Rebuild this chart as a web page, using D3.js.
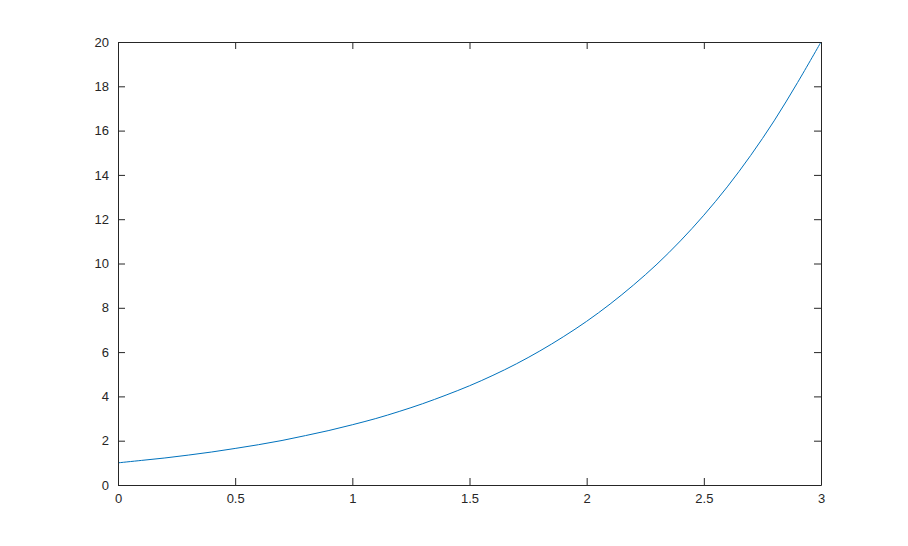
<!DOCTYPE html>
<html>
<head>
<meta charset="utf-8">
<script src="https://cdn.jsdelivr.net/npm/d3@7"></script>
<style>
  body { margin: 0; background: #fff; }
  text { font-family: "Liberation Sans", Arial, sans-serif; font-size: 13px; fill: #262626; }
</style>
</head>
<body>
<svg id="chart" width="908" height="546"></svg>
<script>
// values, every 0.1 on x
var xs = [0, 0.1, 0.2, 0.3, 0.4, 0.5, 0.6, 0.7, 0.8, 0.9, 1.0,
          1.1, 1.2, 1.3, 1.4, 1.5, 1.6, 1.7, 1.8, 1.9, 2.0,
          2.1, 2.2, 2.3, 2.4, 2.5, 2.6, 2.7, 2.8, 2.9, 3.0]
var ys = [1.00, 1.11, 1.22, 1.35, 1.49, 1.65, 1.82, 2.01, 2.23, 2.46, 2.72,
          3.00, 3.32, 3.67, 4.06, 4.48, 4.95, 5.47, 6.05, 6.69, 7.39,
          8.17, 9.03, 9.97, 11.02, 12.18, 13.46, 14.88, 16.44, 18.17, 20.0]
var xticks = [0, 0.5, 1, 1.5, 2, 2.5, 3]
var yticks = [0, 2, 4, 6, 8, 10, 12, 14, 16, 18, 20]

// plot box (window.top is taken, so plain names)
var boxL = 118, boxR = 821, boxT = 42, boxB = 485
var tick = 7

var svg = d3.select('#chart')

var x = d3.scaleLinear().domain([0, 3]).range([boxL, boxR])
var y = d3.scaleLinear().domain([0, 20]).range([boxB, boxT])

var points = xs.map(function(d, i) { return [d, ys[i]] })

svg.append('clipPath').attr('id', 'clip')
    .append('rect')
    .attr('x', boxL).attr('y', boxT)
    .attr('width', boxR - boxL).attr('height', boxB - boxT)

svg.append('path')
    .datum(points)
    .attr('clip-path', 'url(#clip)')
    .attr('fill', 'none')
    .attr('stroke', '#0072bd')
    .attr('stroke-width', 1)
    .attr('d', d3.line()
        .x(function(d) { return x(d[0]) })
        .y(function(d) { return y(d[1]) })
        .curve(d3.curveCatmullRom))

// axes: ticks point inward on all four sides
function noText(g) { g.selectAll('text').remove() }

svg.append('g')
    .attr('transform', 'translate(0,' + boxB + ')')
    .call(d3.axisBottom(x).tickValues(xticks).tickSizeInner(-tick).tickSizeOuter(0).tickPadding(9).tickFormat(d3.format('')))
svg.append('g')
    .attr('transform', 'translate(0,' + boxT + ')')
    .call(d3.axisTop(x).tickValues(xticks).tickSizeInner(-tick).tickSizeOuter(0))
    .call(noText)
svg.append('g')
    .attr('transform', 'translate(' + boxL + ',0)')
    .call(d3.axisLeft(y).tickValues(yticks).tickSizeInner(-tick).tickSizeOuter(0).tickPadding(9))
svg.append('g')
    .attr('transform', 'translate(' + boxR + ',0)')
    .call(d3.axisRight(y).tickValues(yticks).tickSizeInner(-tick).tickSizeOuter(0))
    .call(noText)

svg.selectAll('.domain, .tick line').attr('stroke', '#262626')
svg.selectAll('.tick text').style('font-size', '13px').attr('fill', '#262626')
</script>
</body>
</html>
